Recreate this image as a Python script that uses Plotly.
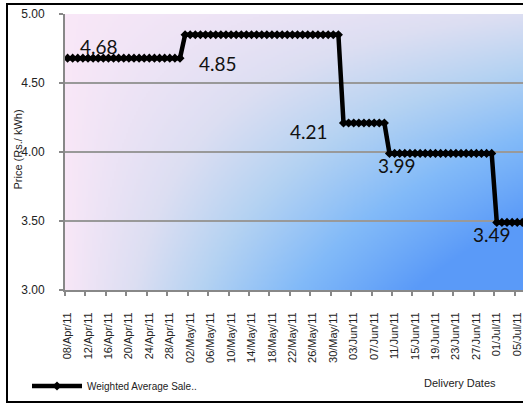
import base64
import struct
import zlib

import pandas as pd
import plotly.graph_objects as go

# ---- data -----------------------------------------------------------------
dates = pd.date_range("2011-04-08", periods=91, freq="D").strftime("%d/%b/%y").tolist()
price = [4.68] * 23 + [4.85] * 31 + [4.21] * 9 + [3.99] * 21 + [3.49] * 7

label_dates = ["14/Apr/11", "07/May/11", "01/Jun/11", "11/Jun/11", "01/Jul/11"]
label_values = [4.68, 4.85, 4.21, 3.99, 3.49]

series_name = "Weighted Average Sale.."
y_title = "Price (Rs./ kWh)"
x_title = "Delivery Dates"

# ---- geometry / style -----------------------------------------------------
W, H = 523, 404
ML, MR, MT, MB = 65, 0, 14, 114
PW, PH = W - ML - MR, H - MT - MB
FONT = "Liberation Sans, Arial, sans-serif"
label_offsets = [(1, 11.5), (2, -29), (-35, -8), (2.6, -12), (-5, -12)]


def px_x(px):
    return (px - ML) / PW


def px_y(py):
    return (MT + PH - py) / PH


def gradient_png(w, h):
    """Pink-to-blue plot-area fill encoded as a PNG data URI."""
    stops = [
        (0.0, (249, 231, 247)),
        (0.25, (220, 222, 242)),
        (0.45, (180, 210, 242)),
        (0.7, (130, 186, 248)),
        (1.0, (90, 154, 248)),
    ]

    def colour(t):
        for (t0, c0), (t1, c1) in zip(stops, stops[1:]):
            if t <= t1:
                f = (t - t0) / (t1 - t0)
                return tuple(int(round(a + (b - a) * f)) for a, b in zip(c0, c1))
        return stops[-1][1]

    raw = bytearray()
    for j in range(h):
        v = j / (h - 1)
        raw.append(0)
        for i in range(w):
            u = i / (w - 1)
            raw.extend(colour(min(1.0, u ** 0.85 * (0.25 + 1.0 * v))))

    def chunk(tag, data):
        body = tag + data
        return struct.pack(">I", len(data)) + body + struct.pack(">I", zlib.crc32(body) & 0xFFFFFFFF)

    png = b"\x89PNG\r\n\x1a\n"
    png += chunk(b"IHDR", struct.pack(">IIBBBBB", w, h, 8, 2, 0, 0, 0))
    png += chunk(b"IDAT", zlib.compress(bytes(raw), 9))
    png += chunk(b"IEND", b"")
    return "data:image/png;base64," + base64.b64encode(png).decode()


fig = go.Figure()
fig.add_trace(
    go.Scatter(
        x=dates,
        y=price,
        mode="lines+markers",
        name=series_name,
        line=dict(color="black", width=4.5),
        marker=dict(symbol="diamond", size=7, color="black"),
    )
)

for d, v, (dx, dy) in zip(label_dates, label_values, label_offsets):
    fig.add_annotation(
        x=d, y=v, text=f"{v:.2f}", showarrow=False,
        xshift=dx, yshift=dy, xanchor="center", yanchor="middle",
        font=dict(family="Lato, sans-serif", size=19, color="#111"),
    )

fig.add_annotation(
    x=px_x(17.5), y=px_y(150), xref="paper", yref="paper", text=y_title,
    textangle=-90, showarrow=False, xanchor="center", yanchor="middle",
    font=dict(family=FONT, size=11, color="#222"),
)
fig.add_annotation(
    x=px_x(460), y=px_y(383), xref="paper", yref="paper", text=x_title,
    showarrow=False, xanchor="center", yanchor="middle",
    font=dict(family=FONT, size=11, color="#222"),
)

# outer chart frame
fig.add_shape(
    type="rect", xref="paper", yref="paper",
    x0=px_x(7), x1=px_x(W + 20), y0=px_y(402), y1=px_y(4),
    line=dict(color="black", width=2), fillcolor="rgba(0,0,0,0)", layer="above",
)

fig.add_layout_image(
    source=gradient_png(230, 138), xref="paper", yref="paper",
    x=0, y=1, sizex=1, sizey=1, xanchor="left", yanchor="top",
    sizing="stretch", layer="below",
)

fig.update_layout(
    width=W, height=H, autosize=False,
    margin=dict(l=ML, r=MR, t=MT, b=MB),
    paper_bgcolor="white", plot_bgcolor="white",
    font=dict(family=FONT, color="#222"),
    showlegend=True,
    legend=dict(
        orientation="h", x=px_x(27), y=px_y(386), xanchor="left", yanchor="middle",
        itemwidth=50, font=dict(family=FONT, size=10, color="#222"),
        bgcolor="rgba(0,0,0,0)",
    ),
)
fig.update_xaxes(
    type="category", range=[-0.5, -0.5 + PW / 5.11],
    tickmode="linear", tick0=0, dtick=4, tickson="boundaries",
    ticks="outside", ticklen=4, tickwidth=1.5, tickcolor="#888",
    tickangle=-90, ticklabelstandoff=16,
    tickfont=dict(family=FONT, size=11, color="#222"),
    showgrid=False, showline=True, linecolor="#888", linewidth=2, zeroline=False,
)
fig.update_yaxes(
    range=[3, 5], dtick=0.5, tickformat=".2f",
    ticks="outside", ticklen=4, tickwidth=1.5, tickcolor="#888",
    ticklabelstandoff=12,
    tickfont=dict(family=FONT, size=12, color="#222"),
    showgrid=True, gridcolor="#999", gridwidth=1.5,
    showline=True, linecolor="#888", linewidth=2, zeroline=False,
)

fig.write_html("out.html")
